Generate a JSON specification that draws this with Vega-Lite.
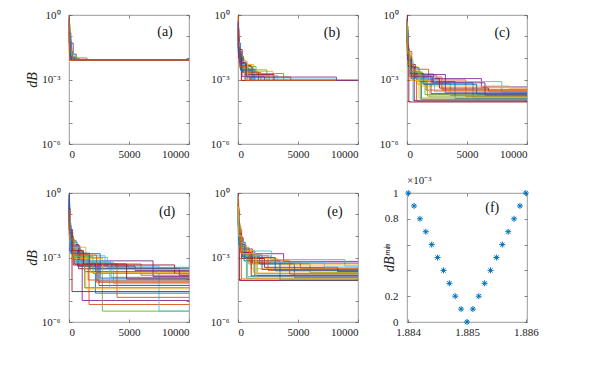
{
  "$schema": "https://vega.github.io/schema/vega-lite/v6.json",
  "background": "white",
  "padding": {"left": 24, "top": 8, "right": 0, "bottom": 0},
  "config": {
    "view": {"stroke": "#808080", "strokeWidth": 0.8},
    "axis": {"domain": false, "grid": false, "tickColor": "#555555", "tickSize": -3, "tickWidth": 0.7, "labelOverlap": false,
      "labelFont": "Liberation Serif", "labelFontSize": 11, "labelColor": "#222222",
      "titleFont": "Liberation Serif", "titleFontSize": 14, "titleFontStyle": "italic", "titleFontWeight": "normal", "titleColor": "#222222"},
    "axisX": {"labelPadding": 7},
    "axisY": {"labelPadding": 12},
    "line": {"interpolate": "step-after", "strokeWidth": 0.9, "opacity": 1, "clip": true},
    "text": {"font": "Liberation Serif", "fontSize": 14, "color": "#111111"}
  },
  "datasets": {
    "a": [
      {"s":"01","x":[0,40,150,10000],"y":[1,0.15,0.008,0.008]},
      {"s":"03","x":[0,60,250,10000],"y":[0.3,0.03,0.008,0.008]},
      {"s":"04","x":[0,30,350,600,10000],"y":[0.2,0.05,0.015,0.008,0.008]},
      {"s":"05","x":[0,80,350,650,10000],"y":[0.4,0.02,0.012,0.008,0.008]},
      {"s":"06","x":[0,15,200,10000],"y":[1,0.1,0.008,0.008]},
      {"s":"07","x":[0,50,100,450,10000],"y":[0.15,0.04,0.011,0.008,0.008]},
      {"s":"08","x":[0,25,180,900,10000],"y":[0.6,0.06,0.009,0.008,0.008]},
      {"s":"09","x":[0,70,1500,10000],"y":[0.25,0.01,0.008,0.008]},
      {"s":"10","x":[0,10,60,10000],"y":[0.12,0.02,0.008,0.008]},
      {"s":"11","x":[0,35,120,10000],"y":[0.8,0.03,0.008,0.008]},
      {"s":"12","x":[0,45,220,10000],"y":[0.35,0.025,0.008,0.008]},
      {"s":"13","x":[0,30,400,10000],"y":[0.5,0.018,0.008,0.008]},
      {"s":"14","x":[0,55,170,10000],"y":[0.2,0.012,0.008,0.008]},
      {"s":"15","x":[0,20,130,500,10000],"y":[0.7,0.045,0.01,0.008,0.008]},
      {"s":"16","x":[0,5,50,10000],"y":[1,0.3,0.008,0.008]},
      {"s":"02","x":[0,20,90,300,10000],"y":[0.5,0.08,0.02,0.008,0.008]}
    ],
    "b": [
      {"s":"01","x":[0,40,200,800,10000],"y":[1,0.05,0.005,0.0009,0.0009]},
      {"s":"02","x":[0,30,300,1200,2600,10000],"y":[0.3,0.02,0.004,0.0016,0.0009,0.0009]},
      {"s":"03","x":[0,60,500,1300,2900,10000],"y":[0.1,0.01,0.005,0.0024,0.0009,0.0009]},
      {"s":"05","x":[0,80,250,1500,3800,10000],"y":[0.2,0.015,0.004,0.0019,0.0009,0.0009]},
      {"s":"06","x":[0,15,120,600,8100,10000],"y":[0.7,0.06,0.008,0.00105,0.0009,0.0009]},
      {"s":"07","x":[0,50,350,1000,10000],"y":[1,0.025,0.0025,0.0009,0.0009]},
      {"s":"08","x":[0,25,90,450,1700,10000],"y":[0.4,0.08,0.012,0.0022,0.0009,0.0009]},
      {"s":"09","x":[0,70,200,900,4400,10000],"y":[0.25,0.008,0.0035,0.0013,0.0009,0.0009]},
      {"s":"10","x":[0,10,60,300,10000],"y":[0.12,0.04,0.01,0.0009,0.0009]},
      {"s":"11","x":[0,35,180,1100,10000],"y":[0.6,0.02,0.0045,0.0009,0.0009]},
      {"s":"12","x":[0,55,400,2400,10000],"y":[0.08,0.012,0.0028,0.0009,0.0009]},
      {"s":"13","x":[0,45,130,550,10000],"y":[0.35,0.035,0.0065,0.0009,0.0009]},
      {"s":"14","x":[0,90,600,3000,10000],"y":[0.05,0.006,0.0017,0.0009,0.0009]},
      {"s":"15","x":[0,30,250,1400,10000],"y":[0.45,0.018,0.003,0.0009,0.0009]},
      {"s":"16","x":[0,65,380,1900,10000],"y":[0.15,0.009,0.0021,0.0009,0.0009]},
      {"s":"17","x":[0,20,110,800,10000],"y":[0.8,0.05,0.007,0.0009,0.0009]},
      {"s":"18","x":[0,75,330,2200,10000],"y":[0.1,0.011,0.0014,0.0009,0.0009]},
      {"s":"19","x":[0,40,160,1000,10000],"y":[0.3,0.022,0.0033,0.0009,0.0009]},
      {"s":"20","x":[0,85,520,3300,10000],"y":[0.06,0.005,0.0015,0.0009,0.0009]},
      {"s":"21","x":[0,50,280,10000],"y":[0.25,0.01,0.0009,0.0009]},
      {"s":"22","x":[0,35,210,1250,10000],"y":[0.4,0.015,0.0027,0.0009,0.0009]},
      {"s":"23","x":[0,25,140,650,10000],"y":[0.9,0.03,0.004,0.0009,0.0009]},
      {"s":"04","x":[0,20,150,700,8200,10000],"y":[0.5,0.03,0.006,0.0013,0.0009,0.0009]}
    ],
    "c": [
      {"s":"01","x":[0,50,300,1200,10000],"y":[0.3,0.01,0.002,0.00012,0.00012]},
      {"s":"02","x":[0,20,400,1800,4900,10000],"y":[0.5,0.02,0.003,0.00095,0.00016,0.00016]},
      {"s":"03","x":[0,60,250,900,3000,10000],"y":[0.1,0.015,0.004,0.0006,0.0003,0.0003]},
      {"s":"04","x":[0,15,120,700,6200,10000],"y":[0.7,0.05,0.005,0.0011,0.00045,0.00045]},
      {"s":"05","x":[0,40,350,1500,10000],"y":[0.4,0.006,0.0012,0.0002,0.0002]},
      {"s":"06","x":[0,80,500,2500,7900,10000],"y":[0.2,0.008,0.0015,0.0008,0.00025,0.00025]},
      {"s":"07","x":[0,30,150,10000],"y":[1,0.03,0.00009,0.00009]},
      {"s":"08","x":[0,100,600,2200,5500,10000],"y":[0.15,0.004,0.0018,0.0007,0.00014,0.00014]},
      {"s":"09","x":[0,25,200,800,10000],"y":[0.25,0.012,0.0025,0.0001,0.0001]},
      {"s":"10","x":[0,70,450,1100,8500,10000],"y":[0.12,0.01,0.0009,0.0005,0.0004,0.0004]},
      {"s":"11","x":[0,35,180,2000,10000],"y":[0.35,0.025,0.0014,0.00022,0.00022]},
      {"s":"12","x":[0,55,280,1300,3600,10000],"y":[0.08,0.007,0.0022,0.00065,0.00018,0.00018]},
      {"s":"13","x":[0,10,90,500,10000],"y":[0.6,0.08,0.006,0.00011,0.00011]},
      {"s":"14","x":[0,45,330,2700,6800,10000],"y":[0.18,0.009,0.0011,0.0004,0.00028,0.00028]},
      {"s":"15","x":[0,65,220,1000,4000,10000],"y":[0.05,0.02,0.0035,0.0008,0.00013,0.00013]},
      {"s":"16","x":[0,85,400,1600,10000],"y":[0.3,0.005,0.0013,0.00032,0.00032]},
      {"s":"17","x":[0,30,260,1900,10000],"y":[0.45,0.018,0.0009,0.00015,0.00015]},
      {"s":"18","x":[0,50,380,3200,10000],"y":[0.22,0.011,0.0017,0.00024,0.00024]},
      {"s":"19","x":[0,40,320,1700,10000],"y":[0.3,0.012,0.0016,0.00017,0.00017]},
      {"s":"20","x":[0,70,420,2300,10000],"y":[0.15,0.006,0.0011,0.00027,0.00027]},
      {"s":"21","x":[0,20,140,600,10000],"y":[0.6,0.04,0.004,0.0001,0.0001]},
      {"s":"22","x":[0,55,300,1400,5800,10000],"y":[0.2,0.009,0.0019,0.0006,0.00021,0.00021]},
      {"s":"23","x":[0,90,550,2900,10000],"y":[0.09,0.005,0.0013,0.00035,0.00035]},
      {"s":"24","x":[0,30,200,1000,10000],"y":[0.4,0.02,0.0028,0.00014,0.00014]},
      {"s":"25","x":[0,60,360,2100,6500,10000],"y":[0.12,0.008,0.0014,0.0007,0.00019,0.00019]},
      {"s":"26","x":[0,45,240,1150,10000],"y":[0.5,0.016,0.0023,0.00012,0.00012]}
    ],
    "d": [
      {"s":"01","x":[0,40,350,1300,10000],"y":[0.4,0.01,0.001,0.00022,0.00022]},
      {"s":"02","x":[0,60,500,1670,10000],"y":[0.1,0.004,0.0008,0.0000065,0.0000065]},
      {"s":"03","x":[0,25,200,900,5000,10000],"y":[0.3,0.02,0.002,0.0004,0.0003,0.0003]},
      {"s":"04","x":[0,20,300,1100,10000],"y":[0.5,0.02,0.002,0.00001,0.00001]},
      {"s":"05","x":[0,50,400,1500,2780,10000],"y":[0.3,0.008,0.0015,0.0005,0.0000032,0.0000032]},
      {"s":"06","x":[0,80,700,3000,7500,10000],"y":[0.2,0.005,0.0012,0.0004,0.0000032,0.0000032]},
      {"s":"07","x":[0,30,250,2200,10000],"y":[1,0.01,0.000026,0.000026,0.000026]},
      {"s":"08","x":[0,70,600,2200,10000],"y":[0.15,0.006,0.0006,0.000022,0.000022]},
      {"s":"09","x":[0,35,300,1200,6000,10000],"y":[0.25,0.015,0.0018,0.0005,0.00015,0.00015]},
      {"s":"10","x":[0,45,250,1800,10000],"y":[0.6,0.012,0.0009,0.0002,0.0002]},
      {"s":"11","x":[0,90,450,2500,10000],"y":[0.08,0.003,0.0005,0.00005,0.00005]},
      {"s":"12","x":[0,55,350,1000,3500,10000],"y":[0.12,0.009,0.0025,0.0006,0.00012,0.00012]},
      {"s":"13","x":[0,65,400,3200,10000],"y":[0.35,0.007,0.001,0.00035,0.00035]},
      {"s":"14","x":[0,15,100,800,9200,10000],"y":[0.8,0.05,0.004,0.0003,0.00015,0.00015]},
      {"s":"15","x":[0,100,800,2400,10000],"y":[0.05,0.003,0.0004,0.00008,0.00008]},
      {"s":"16","x":[0,75,500,4000,10000],"y":[0.2,0.004,0.0005,0.000014,0.000014]},
      {"s":"17","x":[0,30,180,1400,10000],"y":[0.45,0.03,0.003,0.000035,0.000035]},
      {"s":"18","x":[0,60,700,5500,10000],"y":[0.18,0.002,0.0004,0.00025,0.00025]},
      {"s":"19","x":[0,40,300,1300,10000],"y":[0.22,0.01,0.0012,0.00004,0.00004]},
      {"s":"20","x":[0,85,600,3700,10000],"y":[0.1,0.004,0.0006,0.00006,0.00006]},
      {"s":"21","x":[0,50,350,8800,10000],"y":[0.28,0.006,0.00045,0.00018,0.00018]},
      {"s":"22","x":[0,20,150,2600,10000],"y":[0.9,0.04,0.0015,0.00011,0.00011]},
      {"s":"23","x":[0,35,280,1600,10000],"y":[0.3,0.012,0.0014,0.00009,0.00009]},
      {"s":"24","x":[0,70,450,2800,10000],"y":[0.12,0.006,0.0009,0.00028,0.00028]},
      {"s":"25","x":[0,25,160,900,7000,10000],"y":[0.5,0.03,0.0035,0.0007,0.00013,0.00013]},
      {"s":"26","x":[0,55,380,2000,10000],"y":[0.2,0.008,0.0011,0.00018,0.00018]},
      {"s":"27","x":[0,80,600,3400,10000],"y":[0.07,0.003,0.0007,0.00004,0.00004]},
      {"s":"28","x":[0,45,260,1200,4800,10000],"y":[0.35,0.014,0.0021,0.0005,0.0001,0.0001]},
      {"s":"29","x":[0,30,220,1700,10000],"y":[0.6,0.02,0.0016,0.00032,0.00032]},
      {"s":"30","x":[0,65,420,2300,10000],"y":[0.15,0.007,0.0013,0.00007,0.00007]}
    ],
    "e": [
      {"s":"01","x":[0,40,300,1400,10000],"y":[0.5,0.02,0.002,0.00015,0.00015]},
      {"s":"02","x":[0,60,450,2500,10000],"y":[0.2,0.008,0.0012,0.00025,0.00025]},
      {"s":"03","x":[0,25,250,1100,10000],"y":[0.3,0.03,0.0018,0.0003,0.0003]},
      {"s":"04","x":[0,80,600,3800,10000],"y":[0.15,0.005,0.0015,0.00066,0.00066]},
      {"s":"05","x":[0,50,200,900,6000,10000],"y":[0.4,0.01,0.003,0.0005,0.0002,0.0002]},
      {"s":"06","x":[0,35,500,2800,8900,10000],"y":[0.25,0.006,0.002,0.0008,0.0004,0.0004]},
      {"s":"07","x":[0,15,120,10000],"y":[1,0.03,0.000085,0.000085]},
      {"s":"08","x":[0,70,350,1800,4700,10000],"y":[0.12,0.007,0.0011,0.0005,0.00012,0.00012]},
      {"s":"09","x":[0,45,280,10000],"y":[0.6,0.015,0.0001,0.0001]},
      {"s":"10","x":[0,90,700,3300,10000],"y":[0.08,0.004,0.0009,0.00045,0.00045]},
      {"s":"11","x":[0,30,150,1200,10000],"y":[0.35,0.04,0.0025,0.00055,0.00055]},
      {"s":"12","x":[0,55,400,1600,10000],"y":[0.18,0.009,0.0014,0.00018,0.00018]},
      {"s":"13","x":[0,20,250,800,10000],"y":[0.7,0.012,0.0022,0.00013,0.00013]},
      {"s":"14","x":[0,65,320,2200,8300,10000],"y":[0.22,0.006,0.0009,0.00035,0.00022,0.00022]},
      {"s":"15","x":[0,100,500,3500,10000],"y":[0.05,0.003,0.0007,0.00009,0.00009]},
      {"s":"16","x":[0,40,230,1000,5200,10000],"y":[0.28,0.018,0.0016,0.0006,0.00032,0.00032]},
      {"s":"17","x":[0,30,200,1300,10000],"y":[0.4,0.02,0.0021,0.00019,0.00019]},
      {"s":"18","x":[0,60,380,2000,10000],"y":[0.18,0.009,0.0013,0.00028,0.00028]},
      {"s":"19","x":[0,20,140,700,10000],"y":[0.7,0.035,0.003,0.00011,0.00011]},
      {"s":"20","x":[0,75,480,2700,7200,10000],"y":[0.1,0.005,0.0012,0.0006,0.00036,0.00036]},
      {"s":"21","x":[0,45,260,1100,10000],"y":[0.3,0.013,0.0017,0.00014,0.00014]},
      {"s":"22","x":[0,85,560,3100,10000],"y":[0.06,0.004,0.001,0.00024,0.00024]},
      {"s":"23","x":[0,35,180,950,4300,10000],"y":[0.5,0.025,0.0024,0.0007,0.00017,0.00017]},
      {"s":"24","x":[0,55,330,1500,10000],"y":[0.22,0.01,0.0015,0.0001,0.0001]}
    ],
    "f": [
      {"x":1.8840,"y":1.0},{"x":1.8841,"y":0.9},{"x":1.8842,"y":0.8},{"x":1.8843,"y":0.7},
      {"x":1.8844,"y":0.6},{"x":1.8845,"y":0.5},{"x":1.8846,"y":0.4},{"x":1.8847,"y":0.3},
      {"x":1.8848,"y":0.2},{"x":1.8849,"y":0.1},{"x":1.8850,"y":0.0},{"x":1.8851,"y":0.1},
      {"x":1.8852,"y":0.2},{"x":1.8853,"y":0.3},{"x":1.8854,"y":0.4},{"x":1.8855,"y":0.5},
      {"x":1.8856,"y":0.6},{"x":1.8857,"y":0.7},{"x":1.8858,"y":0.8},{"x":1.8859,"y":0.9},
      {"x":1.8860,"y":1.0}
    ]
  },
  "columns": 3,
  "spacing": {"row": 49, "column": 49},
  "bounds": "flush",
  "concat": [
    {"width": 120, "height": 129, "resolve": {"axis": {"x": "independent", "y": "independent"}}, "layer": [
      {"data": {"name": "a"}, "transform": [{"flatten": ["x", "y"]}],
       "mark": {"type": "line"},
       "encoding": {
         "x": {"field": "x", "type": "quantitative", "scale": {"domain": [0, 10000]}, "axis": {"values": [0, 5000, 10000], "format": "d", "title": null}},
         "y": {"field": "y", "type": "quantitative", "scale": {"type": "log", "domain": [0.000001, 1]}, "axis": {"values": [1, 0.1, 0.01, 0.001, 0.0001, 0.00001, 0.000001], "labelExpr": "datum.value == 1 ? '10⁰' : datum.value == 0.001 ? '10⁻³' : datum.value == 0.000001 ? '10⁻⁶' : ''", "title": "dB", "titlePadding": 2}},
         "color": {"field": "s", "type": "nominal", "scale": {"range": ["#0072BD", "#D95319", "#EDB120", "#7E2F8E", "#77AC30", "#4DBEEE", "#A2142F"]}, "legend": null}}},
      {"data": {"values": [{"x": 8000, "y": 0.17, "t": "(a)"}]}, "mark": {"type": "text"},
       "encoding": {"x": {"field": "x", "type": "quantitative", "axis": {"orient": "top", "labels": false, "title": null, "values": [0, 5000, 10000]}}, "y": {"field": "y", "type": "quantitative", "scale": {"type": "log"}, "axis": {"orient": "right", "labels": false, "title": null, "values": [1, 0.1, 0.01, 0.001, 0.0001, 0.00001, 0.000001]}}, "text": {"field": "t"}}}
    ]},
    {"width": 120, "height": 129, "resolve": {"axis": {"x": "independent", "y": "independent"}}, "layer": [
      {"data": {"name": "b"}, "transform": [{"flatten": ["x", "y"]}],
       "mark": {"type": "line"},
       "encoding": {
         "x": {"field": "x", "type": "quantitative", "scale": {"domain": [0, 10000]}, "axis": {"values": [0, 5000, 10000], "format": "d", "title": null}},
         "y": {"field": "y", "type": "quantitative", "scale": {"type": "log", "domain": [0.000001, 1]}, "axis": {"values": [1, 0.1, 0.01, 0.001, 0.0001, 0.00001, 0.000001], "labelExpr": "datum.value == 1 ? '10⁰' : datum.value == 0.001 ? '10⁻³' : datum.value == 0.000001 ? '10⁻⁶' : ''", "title": null}},
         "color": {"field": "s", "type": "nominal", "scale": {"range": ["#0072BD", "#D95319", "#EDB120", "#7E2F8E", "#77AC30", "#4DBEEE", "#A2142F"]}, "legend": null}}},
      {"data": {"values": [{"x": 7830, "y": 0.145, "t": "(b)"}]}, "mark": {"type": "text"},
       "encoding": {"x": {"field": "x", "type": "quantitative", "axis": {"orient": "top", "labels": false, "title": null, "values": [0, 5000, 10000]}}, "y": {"field": "y", "type": "quantitative", "scale": {"type": "log"}, "axis": {"orient": "right", "labels": false, "title": null, "values": [1, 0.1, 0.01, 0.001, 0.0001, 0.00001, 0.000001]}}, "text": {"field": "t"}}}
    ]},
    {"width": 120, "height": 129, "resolve": {"axis": {"x": "independent", "y": "independent"}}, "layer": [
      {"data": {"name": "c"}, "transform": [{"flatten": ["x", "y"]}],
       "mark": {"type": "line"},
       "encoding": {
         "x": {"field": "x", "type": "quantitative", "scale": {"domain": [0, 10000]}, "axis": {"values": [0, 5000, 10000], "format": "d", "title": null}},
         "y": {"field": "y", "type": "quantitative", "scale": {"type": "log", "domain": [0.000001, 1]}, "axis": {"values": [1, 0.1, 0.01, 0.001, 0.0001, 0.00001, 0.000001], "labelExpr": "datum.value == 1 ? '10⁰' : datum.value == 0.001 ? '10⁻³' : datum.value == 0.000001 ? '10⁻⁶' : ''", "title": null}},
         "color": {"field": "s", "type": "nominal", "scale": {"range": ["#0072BD", "#D95319", "#EDB120", "#7E2F8E", "#77AC30", "#4DBEEE", "#A2142F"]}, "legend": null}}},
      {"data": {"values": [{"x": 7930, "y": 0.14, "t": "(c)"}]}, "mark": {"type": "text"},
       "encoding": {"x": {"field": "x", "type": "quantitative", "axis": {"orient": "top", "labels": false, "title": null, "values": [0, 5000, 10000]}}, "y": {"field": "y", "type": "quantitative", "scale": {"type": "log"}, "axis": {"orient": "right", "labels": false, "title": null, "values": [1, 0.1, 0.01, 0.001, 0.0001, 0.00001, 0.000001]}}, "text": {"field": "t"}}}
    ]},
    {"width": 120, "height": 129, "resolve": {"axis": {"x": "independent", "y": "independent"}}, "layer": [
      {"data": {"name": "d"}, "transform": [{"flatten": ["x", "y"]}],
       "mark": {"type": "line"},
       "encoding": {
         "x": {"field": "x", "type": "quantitative", "scale": {"domain": [0, 10000]}, "axis": {"values": [0, 5000, 10000], "format": "d", "title": null}},
         "y": {"field": "y", "type": "quantitative", "scale": {"type": "log", "domain": [0.000001, 1]}, "axis": {"values": [1, 0.1, 0.01, 0.001, 0.0001, 0.00001, 0.000001], "labelExpr": "datum.value == 1 ? '10⁰' : datum.value == 0.001 ? '10⁻³' : datum.value == 0.000001 ? '10⁻⁶' : ''", "title": "dB", "titlePadding": 2}},
         "color": {"field": "s", "type": "nominal", "scale": {"range": ["#0072BD", "#D95319", "#EDB120", "#7E2F8E", "#77AC30", "#4DBEEE", "#A2142F"]}, "legend": null}}},
      {"data": {"values": [{"x": 8170, "y": 0.13, "t": "(d)"}]}, "mark": {"type": "text"},
       "encoding": {"x": {"field": "x", "type": "quantitative", "axis": {"orient": "top", "labels": false, "title": null, "values": [0, 5000, 10000]}}, "y": {"field": "y", "type": "quantitative", "scale": {"type": "log"}, "axis": {"orient": "right", "labels": false, "title": null, "values": [1, 0.1, 0.01, 0.001, 0.0001, 0.00001, 0.000001]}}, "text": {"field": "t"}}}
    ]},
    {"width": 120, "height": 129, "resolve": {"axis": {"x": "independent", "y": "independent"}}, "layer": [
      {"data": {"name": "e"}, "transform": [{"flatten": ["x", "y"]}],
       "mark": {"type": "line"},
       "encoding": {
         "x": {"field": "x", "type": "quantitative", "scale": {"domain": [0, 10000]}, "axis": {"values": [0, 5000, 10000], "format": "d", "title": null}},
         "y": {"field": "y", "type": "quantitative", "scale": {"type": "log", "domain": [0.000001, 1]}, "axis": {"values": [1, 0.1, 0.01, 0.001, 0.0001, 0.00001, 0.000001], "labelExpr": "datum.value == 1 ? '10⁰' : datum.value == 0.001 ? '10⁻³' : datum.value == 0.000001 ? '10⁻⁶' : ''", "title": null}},
         "color": {"field": "s", "type": "nominal", "scale": {"range": ["#0072BD", "#D95319", "#EDB120", "#7E2F8E", "#77AC30", "#4DBEEE", "#A2142F"]}, "legend": null}}},
      {"data": {"values": [{"x": 8080, "y": 0.13, "t": "(e)"}]}, "mark": {"type": "text"},
       "encoding": {"x": {"field": "x", "type": "quantitative", "axis": {"orient": "top", "labels": false, "title": null, "values": [0, 5000, 10000]}}, "y": {"field": "y", "type": "quantitative", "scale": {"type": "log"}, "axis": {"orient": "right", "labels": false, "title": null, "values": [1, 0.1, 0.01, 0.001, 0.0001, 0.00001, 0.000001]}}, "text": {"field": "t"}}}
    ]},
    {"width": 120, "height": 129, "resolve": {"axis": {"x": "independent", "y": "independent"}},
     "title": {"text": "×10⁻³", "anchor": "start", "frame": "group", "font": "Liberation Serif", "fontSize": 11, "fontWeight": "normal", "color": "#222222", "offset": 1},
     "layer": [
      {"data": {"name": "f"},
       "mark": {"type": "point", "shape": "M-1,0L1,0M0,-1L0,1M-0.7,-0.7L0.7,0.7M-0.7,0.7L0.7,-0.7", "filled": false, "color": "#0072BD", "strokeWidth": 1, "size": 36, "opacity": 1},
       "encoding": {
         "x": {"field": "x", "type": "quantitative", "scale": {"domain": [1.88398, 1.88602], "zero": false, "nice": false}, "axis": {"values": [1.884, 1.885, 1.886], "format": ".3f", "title": null}},
         "y": {"field": "y", "type": "quantitative", "scale": {"domain": [0, 1]}, "axis": {"values": [0, 0.2, 0.4, 0.6, 0.8, 1], "labelExpr": "datum.value == 0 ? '0' : datum.value == 0.2 ? '0.2' : datum.value == 0.8 ? '0.8' : datum.value == 1 ? '1' : ''", "title": "dBᵐⁱⁿ", "titlePadding": -12}}}},
      {"data": {"values": [{"x": 1.88543, "y": 0.88, "t": "(f)"}]}, "mark": {"type": "text"},
       "encoding": {"x": {"field": "x", "type": "quantitative", "axis": {"orient": "top", "labels": false, "title": null, "values": [1.884, 1.885, 1.886]}}, "y": {"field": "y", "type": "quantitative", "axis": {"orient": "right", "labels": false, "title": null, "values": [0, 0.2, 0.4, 0.6, 0.8, 1]}}, "text": {"field": "t"}}}
    ]}
  ]
}
